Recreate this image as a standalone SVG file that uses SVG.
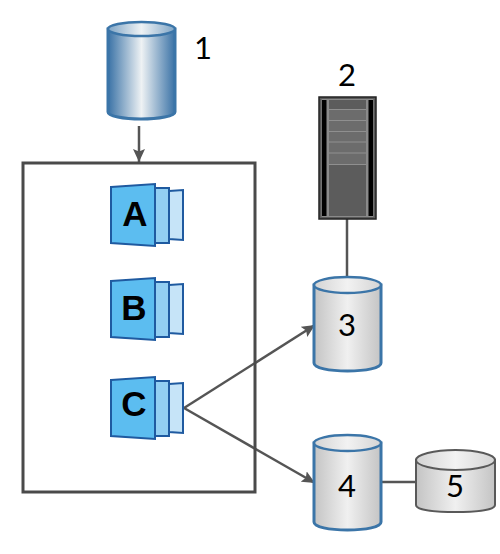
<svg xmlns="http://www.w3.org/2000/svg" width="500" height="554" viewBox="0 0 500 554">
<style>
.lbl{font-family:"Lato","Open Sans",sans-serif;font-size:31px;fill:#000;text-anchor:middle}
.big{font-family:"Liberation Sans",Arial,sans-serif;font-size:35px;font-weight:bold;fill:#000;text-anchor:middle}
.conn{stroke:#555;stroke-width:2.500;fill:none}
.cyl{fill:url(#grey);stroke:#3b75a8;stroke-width:3}
.cyltop{fill:url(#greyTop);stroke:#3b75a8;stroke-width:2.500}
.p1{fill:#5cbdf0;stroke:#1f5aa0;stroke-width:2}
.p2{fill:#93cff2;stroke:#1f5aa0;stroke-width:2}
.p3{fill:#c6e4f8;stroke:#1f5aa0;stroke-width:2}
</style>
<defs>
<linearGradient id="blue"><stop offset="0" stop-color="#3a72a6"/><stop offset=".5" stop-color="#eef2f4"/><stop offset="1" stop-color="#3a72a6"/></linearGradient>
<linearGradient id="blueTop"><stop offset="0" stop-color="#7fa5c6"/><stop offset=".5" stop-color="#eef2f4"/><stop offset="1" stop-color="#7fa5c6"/></linearGradient>
<linearGradient id="grey"><stop offset="0" stop-color="#c4c4c4"/><stop offset=".5" stop-color="#f0f0f0"/><stop offset="1" stop-color="#c4c4c4"/></linearGradient>
<linearGradient id="greyTop"><stop offset="0" stop-color="#d4d4d4"/><stop offset=".5" stop-color="#f2f2f2"/><stop offset="1" stop-color="#d4d4d4"/></linearGradient>
<marker id="arr" markerUnits="userSpaceOnUse" markerWidth="14" markerHeight="12" refX="13" refY="6" orient="auto"><path d="M0 0L13 6L0 12L2.500 6Z" fill="#555"/></marker>
</defs>
<g id="connectors">
<path class="conn" d="M139 126V162" marker-end="url(#arr)"/>
<path class="conn" d="M347 218V278"/>
<path class="conn" d="M184 408L315 325" marker-end="url(#arr)"/>
<path class="conn" d="M184 408L315 483" marker-end="url(#arr)"/>
<path class="conn" d="M380 482H416"/>
</g>
<g id="box"><rect x="23" y="163" width="232" height="329" fill="none" stroke="#4a4a4a" stroke-width="3"/></g>
<g id="n1">
<path d="M108 29V112C108 116 123 119 141 119C159 119 175 116 175 112V29Z" fill="url(#blue)" stroke="#3b75a8" stroke-width="3"/>
<ellipse cx="141.500" cy="29" rx="33.500" ry="7" fill="url(#blueTop)" stroke="#3b75a8" stroke-width="2.500"/>
<text class="lbl" x="203" y="59">1</text>
</g>
<g id="n2">
<rect x="319" y="97" width="57" height="122" fill="#595959" stroke="#222" stroke-width="1.500"/>
<rect x="321.500" y="99" width="52" height="118" fill="#8a8a8a"/>
<rect x="322" y="100" width="4.500" height="116" fill="#000"/><rect x="368.500" y="100" width="4.500" height="116" fill="#000"/>
<rect x="329" y="100" width="37" height="116" fill="#5c5c5c"/>
<rect x="329" y="110" width="37" height="54" fill="#6c6c6c"/>
<path d="M329 109.500H366M329 120.500H366M329 131.500H366M329 142H366M329 153H366M329 164.500H366" stroke="#8f8f8f" stroke-width="1.200"/>
<text class="lbl" x="347" y="86">2</text>
</g>
<g id="n3">
<path class="cyl" d="M314 285V363C314 368 329 371 347.500 371C366 371 381 368 381 363V285Z"/>
<ellipse class="cyltop" cx="347.500" cy="285" rx="33.500" ry="8"/>
<text class="lbl" x="347" y="336">3</text>
</g>
<g id="n4">
<path class="cyl" d="M314 443V522C314 527 329 530 347.500 530C366 530 381 527 381 522V443Z"/>
<ellipse class="cyltop" cx="347.500" cy="443" rx="33.500" ry="8"/>
<text class="lbl" x="347" y="497">4</text>
</g>
<g id="n5">
<path d="M416 460V505C416 510 435 512 455.500 512C476 512 495 510 495 505V460Z" fill="url(#grey)" stroke="#595959" stroke-width="2"/>
<ellipse cx="455.500" cy="460" rx="39.500" ry="10" fill="url(#greyTop)" stroke="#595959" stroke-width="2"/>
<text class="lbl" x="455" y="497">5</text>
</g>
<g id="A">
<path class="p3" d="M169 191L183 190V240L169 239Z"/><path class="p2" d="M155 188L169 188V243L155 243Z"/><path class="p1" d="M111 187L155 184V246L111 243Z"/>
<text class="big" x="135" y="226">A</text>
</g>
<g id="B">
<path class="p3" d="M169 285L183 284V334L169 333Z"/><path class="p2" d="M155 282L169 282V337L155 337Z"/><path class="p1" d="M111 281L155 278V340L111 337Z"/>
<text class="big" x="134" y="320">B</text>
</g>
<g id="C">
<path class="p3" d="M169 384L183 383V433L169 432Z"/><path class="p2" d="M155 381L169 381V436L155 436Z"/><path class="p1" d="M111 380L155 377V439L111 436Z"/>
<text class="big" x="134" y="416">C</text>
</g>
</svg>
